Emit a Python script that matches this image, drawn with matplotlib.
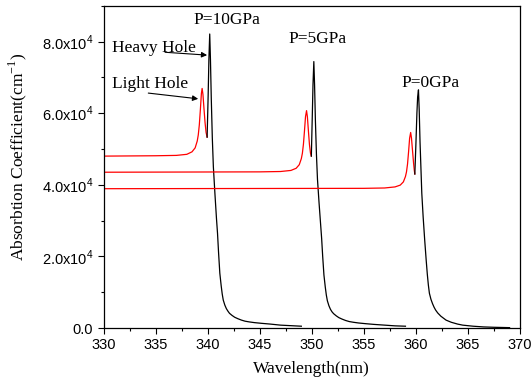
import matplotlib
matplotlib.use('Agg')
import matplotlib.pyplot as plt
from matplotlib.ticker import MultipleLocator, FixedLocator

# absorption in units of 1e4 cm^-1
# P = 10 GPa
red10_x = [330.0, 335.0, 337.0, 338.0, 338.5, 338.8, 339.0, 339.1, 339.2, 339.3, 339.4,
           339.47, 339.55, 339.65, 339.75, 339.85, 339.95]
red10_y = [4.80, 4.81, 4.82, 4.85, 4.92, 5.03, 5.22, 5.39, 5.67, 6.09, 6.55,
           6.69, 6.52, 6.12, 5.74, 5.46, 5.33]
blk10_x = [339.95, 340.05, 340.12, 340.2, 340.27, 340.35, 340.45, 340.55, 340.7, 340.85,
           340.95, 341.05, 341.17, 341.3, 341.4, 341.5, 341.65, 341.8, 341.95, 342.1,
           342.35, 342.6, 342.9, 343.25, 343.6, 344.0, 344.5, 345.2, 346.0, 347.0, 348.0, 349.0]
blk10_y = [5.33, 6.5, 7.5, 8.21, 7.5, 6.4, 5.3, 4.5, 3.75, 3.05,
           2.64, 2.10, 1.53, 1.18, 0.95, 0.78, 0.64, 0.54, 0.47, 0.41,
           0.35, 0.30, 0.26, 0.22, 0.19, 0.17, 0.15, 0.13, 0.11, 0.08, 0.065, 0.05]

# P = 5 GPa
red5_x = [330.0, 345.0, 347.0, 348.0, 348.5, 348.8, 349.0, 349.1, 349.2, 349.3, 349.4,
          349.5, 349.58, 349.68, 349.78, 349.88, 349.96]
red5_y = [4.35, 4.36, 4.37, 4.40, 4.46, 4.56, 4.73, 4.88, 5.13, 5.50, 5.90,
          6.07, 5.90, 5.50, 5.12, 4.88, 4.80]
blk5_x = [349.96, 350.05, 350.12, 350.2, 350.27, 350.35, 350.45, 350.55, 350.7, 350.85,
          350.95, 351.05, 351.17, 351.3, 351.4, 351.5, 351.65, 351.8, 351.95, 352.1,
          352.35, 352.6, 352.9, 353.25, 353.6, 354.0, 354.5, 355.2, 356.0, 357.0, 358.0, 359.0]
blk5_y = [4.80, 5.9, 6.8, 7.44, 6.8, 5.8, 4.85, 4.15, 3.5, 2.9,
          2.50, 2.00, 1.48, 1.14, 0.92, 0.76, 0.62, 0.52, 0.45, 0.40,
          0.34, 0.29, 0.25, 0.21, 0.18, 0.16, 0.14, 0.12, 0.10, 0.08, 0.06, 0.05]

# P = 0 GPa
red0_x = [330.0, 355.0, 357.0, 358.0, 358.5, 358.8, 359.0, 359.1, 359.2, 359.3, 359.4,
          359.5, 359.58, 359.68, 359.78, 359.85, 359.9]
red0_y = [3.89, 3.90, 3.91, 3.94, 3.99, 4.08, 4.23, 4.36, 4.58, 4.92, 5.30,
          5.46, 5.30, 4.95, 4.60, 4.40, 4.30]
blk0_x = [359.9, 360.0, 360.1, 360.17, 360.25, 360.32, 360.4, 360.5, 360.57, 360.7,
          360.85, 360.99, 361.1, 361.2, 361.3, 361.45, 361.6, 361.75, 361.9, 362.1,
          362.4, 362.9, 363.4, 364.0, 364.5, 365.5, 366.5, 367.5, 369.0]
blk0_y = [4.30, 5.1, 6.0, 6.45, 6.65, 6.1, 5.2, 4.35, 3.76, 3.1,
          2.45, 1.90, 1.50, 1.20, 0.97, 0.80, 0.68, 0.58, 0.50, 0.42,
          0.33, 0.22, 0.16, 0.11, 0.08, 0.05, 0.03, 0.02, 0.01]

ytick_vals = [0, 2, 4, 6, 8]
ytick_labels = ['0.0', r'2.0x10$^{\mathregular{4}}$', r'4.0x10$^{\mathregular{4}}$',
                r'6.0x10$^{\mathregular{4}}$', r'8.0x10$^{\mathregular{4}}$']

serif = 'Liberation Serif'
sans = 'Liberation Sans'

fig = plt.figure(figsize=(5.32, 3.83), dpi=100)
ax = fig.add_axes([0.1946, 0.1436, 0.7828, 0.8415])

for rx, ry, bx, by in [(red10_x, red10_y, blk10_x, blk10_y),
                       (red5_x, red5_y, blk5_x, blk5_y),
                       (red0_x, red0_y, blk0_x, blk0_y)]:
    ax.plot(rx, [v * 1e4 for v in ry], color='#ff0000', lw=0.9)
    ax.plot(bx, [v * 1e4 for v in by], color='black', lw=0.9)

ax.set_xlim(330, 370)
ax.set_ylim(0, 9e4)
ax.xaxis.set_major_locator(MultipleLocator(5))
ax.xaxis.set_minor_locator(MultipleLocator(2.5))
ax.yaxis.set_major_locator(FixedLocator([v * 1e4 for v in ytick_vals]))
ax.yaxis.set_minor_locator(MultipleLocator(1e4))
ax.set_yticklabels(ytick_labels)
ax.tick_params(which='major', direction='out', length=4, width=0.8, labelsize=10.5)
ax.tick_params(which='minor', direction='out', length=2.5, width=0.8)
for lab in ax.get_xticklabels() + ax.get_yticklabels():
    lab.set_family(sans)
for sp in ax.spines.values():
    sp.set_linewidth(0.9)

ax.set_xlabel('Wavelength(nm)', family=serif, fontsize=12.5, labelpad=6)
ax.set_ylabel(r'Absorbtion Coefficient(cm$^{\mathregular{-1}}$)', family=serif, fontsize=12.5)
ax.yaxis.set_label_coords(-0.178, 0.53)

txt = dict(family=serif, fontsize=12.5, va='baseline')
ax.text(341.84, 8.49e4, 'P=10GPa', ha='center', **txt)
ax.text(350.57, 7.97e4, 'P=5GPa', ha='center', **txt)
ax.text(361.4, 6.72e4, 'P=0GPa', ha='center', **txt)
ax.text(330.81, 7.72e4, 'Heavy Hole', ha='left', **txt)
ax.text(330.81, 6.70e4, 'Light Hole', ha='left', **txt)

arr = dict(arrowstyle='-|>', color='black', lw=0.8, mutation_scale=8, shrinkA=0, shrinkB=0)
ax.annotate('', xy=(339.95, 7.62e4), xytext=(335.91, 7.70e4), arrowprops=arr)
ax.annotate('', xy=(339.09, 6.40e4), xytext=(334.3, 6.56e4), arrowprops=arr)

fig.savefig('out.png', dpi=100)
